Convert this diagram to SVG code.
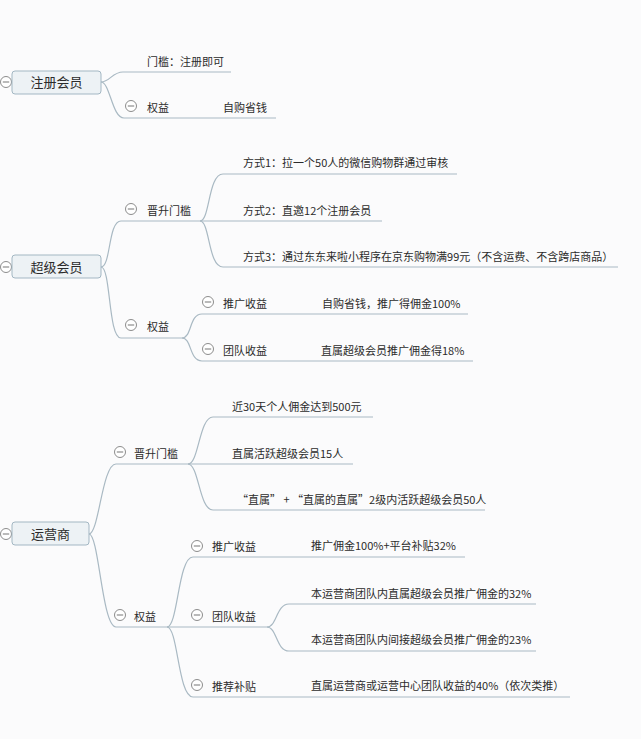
<svg xmlns="http://www.w3.org/2000/svg" width="641" height="739" viewBox="0 0 641 739">
<style>
.bg{fill:#fbfbfc}
.box{fill:#edf2f5;stroke:#a3b7c3;stroke-width:1}
.ln{fill:none;stroke:#a9b9c3;stroke-width:1.2}
.tog circle{fill:#fff;stroke:#8c8c8c;stroke-width:1}
.tog line{stroke:#8c8c8c;stroke-width:1.2}
text{font-family:"Noto Sans CJK SC","Microsoft YaHei",sans-serif;fill:#2b2b2b}
.r{font-size:13px;text-anchor:middle}
.t{font-size:11px}
</style>
<defs>
<g id="tg" class="tog"><circle r="5.5"/><line x1="-3.2" y1="0" x2="3.2" y2="0"/></g>
</defs>
<rect class="bg" x="0" y="0" width="641" height="739"/>

<g id="connectors">
<path class="ln" d="M101,82 C110,82 112,72 123,72 L231,72"/>
<path class="ln" d="M101,82 C110,82 112,118 124,118 L276,118"/>
<path class="ln" d="M101,267 C111,267 108,221 121,221 L200,221"/>
<path class="ln" d="M101,267 C111,267 108,338 121,338 L182,338"/>
<path class="ln" d="M200,221 C210,221 208,174 223,174 L457,174"/>
<path class="ln" d="M200,221 L382,221"/>
<path class="ln" d="M200,221 C210,221 208,267 223,267 L618,267"/>
<path class="ln" d="M182,338 C192,338 189,314 202,314 L468,314"/>
<path class="ln" d="M182,338 C192,338 189,361 202,361 L473,361"/>
<path class="ln" d="M89,534 C99,534 102,464 116,464 L188,464"/>
<path class="ln" d="M89,534 C99,534 102,627 116,627 L167,627"/>
<path class="ln" d="M188,464 C199,464 199,417 213,417 L373,417"/>
<path class="ln" d="M188,464 L353,464"/>
<path class="ln" d="M188,464 C199,464 199,510 213,510 L485,510"/>
<path class="ln" d="M167,627 C178,627 178,557 193,557 L465,557"/>
<path class="ln" d="M167,627 L267,627"/>
<path class="ln" d="M167,627 C178,627 178,697 193,697 L570,697"/>
<path class="ln" d="M267,627 C277,627 276,604 289,604 L536,604"/>
<path class="ln" d="M267,627 C277,627 276,651 289,651 L536,651"/>
</g>

<g id="n-zhuce">
<use href="#tg" x="6" y="82"/>
<rect class="box" x="12" y="71" width="89" height="23" rx="3"/>
<text class="r" x="56.5" y="87">注册会员</text>
</g>
<g id="n-zhuce-menkan"><text class="t" x="147" y="65.5">门槛：注册即可</text></g>
<g id="n-zhuce-quanyi">
<use href="#tg" x="131" y="106"/>
<text class="t" x="147" y="112">权益</text>
<text class="t" x="223" y="112">自购省钱</text>
</g>

<g id="n-chaoji">
<use href="#tg" x="6" y="267"/>
<rect class="box" x="12" y="255" width="89" height="23" rx="3"/>
<text class="r" x="56.5" y="271.5">超级会员</text>
</g>
<g id="n-chaoji-jinsheng">
<use href="#tg" x="131" y="209"/>
<text class="t" x="147" y="214.5">晋升门槛</text>
</g>
<g id="n-fs1"><text class="t" x="243" y="167">方式1：拉一个50人的微信购物群通过审核</text></g>
<g id="n-fs2"><text class="t" x="243" y="214.5">方式2：直邀12个注册会员</text></g>
<g id="n-fs3"><text class="t" x="243" y="261">方式3：通过东东来啦小程序在京东购物满99元（不含运费、不含跨店商品）</text></g>
<g id="n-chaoji-quanyi">
<use href="#tg" x="131" y="325"/>
<text class="t" x="147" y="331">权益</text>
</g>
<g id="n-chaoji-tuiguang">
<use href="#tg" x="208" y="302"/>
<text class="t" x="223" y="307.5">推广收益</text>
<text class="t" x="322" y="307.5">自购省钱，推广得佣金100%</text>
</g>
<g id="n-chaoji-tuandui">
<use href="#tg" x="208" y="349"/>
<text class="t" x="223" y="354.5">团队收益</text>
<text class="t" x="321" y="354.5">直属超级会员推广佣金得18%</text>
</g>

<g id="n-yunying">
<use href="#tg" x="6" y="534"/>
<rect class="box" x="12" y="522" width="77" height="23" rx="3"/>
<text class="r" x="50.5" y="538.5">运营商</text>
</g>
<g id="n-yy-jinsheng">
<use href="#tg" x="120" y="452"/>
<text class="t" x="134" y="457.5">晋升门槛</text>
</g>
<g id="n-yy-c1"><text class="t" x="232" y="410.5">近30天个人佣金达到500元</text></g>
<g id="n-yy-c2"><text class="t" x="232" y="457.5">直属活跃超级会员15人</text></g>
<g id="n-yy-c3"><text class="t" x="237" y="503.5">“直属” + “直属的直属”2级内活跃超级会员50人</text></g>
<g id="n-yy-quanyi">
<use href="#tg" x="120" y="615"/>
<text class="t" x="134" y="620.5">权益</text>
</g>
<g id="n-yy-tuiguang">
<use href="#tg" x="197" y="546"/>
<text class="t" x="212" y="551">推广收益</text>
<text class="t" x="311" y="550">推广佣金100%+平台补贴32%</text>
</g>
<g id="n-yy-tuandui">
<use href="#tg" x="197" y="615"/>
<text class="t" x="212" y="620.5">团队收益</text>
</g>
<g id="n-yy-td1"><text class="t" x="311" y="597.5">本运营商团队内直属超级会员推广佣金的32%</text></g>
<g id="n-yy-td2"><text class="t" x="311" y="644">本运营商团队内间接超级会员推广佣金的23%</text></g>
<g id="n-yy-tuijian">
<use href="#tg" x="197" y="685"/>
<text class="t" x="212" y="690.5">推荐补贴</text>
<text class="t" x="311" y="690">直属运营商或运营中心团队收益的40%（依次类推）</text>
</g>
</svg>
